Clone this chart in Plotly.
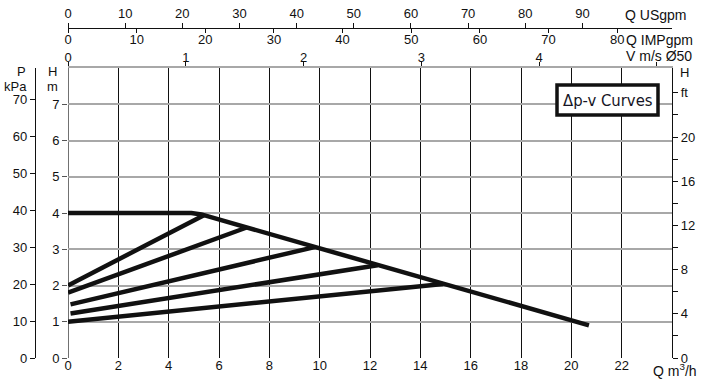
import plotly.graph_objects as go

# ---------------- data ----------------
q_ticks = [0, 2, 4, 6, 8, 10, 12, 14, 16, 18, 20, 22]
h_ticks = [0, 1, 2, 3, 4, 5, 6, 7]
p_ticks = [0, 10, 20, 30, 40, 50, 60, 70]
ft_ticks = [0, 2, 4, 6, 8, 10, 12, 14, 16, 18, 20, 22, 24]
ft_text = ["0", "", "4", "", "8", "", "12", "", "16", "", "20", "", "ft"]
usgpm_ticks = [0, 10, 20, 30, 40, 50, 60, 70, 80, 90]
impgpm_ticks = [0, 10, 20, 30, 40, 50, 60, 70, 80]
v_ticks = [0, 1, 2, 3, 4, 5]
v_text = ["0", "1", "2", "3", "4", ""]

# max curve (constant then falling)
max_q = [0, 4.9, 5.3, 5.6, 20.7]
max_h = [4.0, 4.0, 3.96, 3.9, 0.9]

# proportional-pressure curves (start, end on max curve)
prop_q = [[0, 5.4], [0, 7.1], [0.1, 9.8], [0.1, 12.3], [0, 14.9]]
prop_h = [[2.0, 3.94], [1.8, 3.6], [1.48, 3.06], [1.23, 2.56], [1.0, 2.04]]

# unit conversions
Q_MAX = 24.0
H_MAX = 8.0
M_TO_KPA = 9.80665
M_TO_FT = 3.28084
M3H_TO_USGPM = 4.40287
M3H_TO_IMPGPM = 3.66615
M3H_PER_MS = 4.68

# ---------------- geometry helpers ----------------
W, H = 706, 379
ML, MR, MT, MB = 20, 20, 20, 21
PW, PH = W - ML - MR, H - MT - MB


def px(xpix):
    return (xpix - ML) / PW


def py(ypix):
    return (H - MB - ypix) / PH


FONT = "Liberation Sans, Arial, Helvetica, sans-serif"
fig = go.Figure()

for qq, hh in zip(prop_q, prop_h):
    fig.add_trace(go.Scatter(x=qq, y=hh, mode="lines",
                             line=dict(color="#111111", width=4.5),
                             hoverinfo="skip", showlegend=False))
fig.add_trace(go.Scatter(x=max_q, y=max_h, mode="lines",
                         line=dict(color="#111111", width=4.5),
                         hoverinfo="skip", showlegend=False))

# empty traces to carry the extra axes
for xa, ya in [("x2", "y"), ("x3", "y"), ("x4", "y"), ("x", "y2"), ("x", "y3")]:
    fig.add_trace(go.Scatter(x=[None], y=[None], xaxis=xa, yaxis=ya,
                             mode="lines", showlegend=False, hoverinfo="skip"))

tickfont = dict(family=FONT, size=13, color="#111111")
xdom = [px(68), px(672)]
ytop = py(68)

fig.update_layout(
    width=W, height=H,
    margin=dict(l=ML, r=MR, t=MT, b=MB, autoexpand=False),
    paper_bgcolor="white", plot_bgcolor="white",
    showlegend=False,
    font=dict(family=FONT, size=13, color="#111111"),
    xaxis=dict(domain=xdom, range=[0, Q_MAX], tickvals=q_ticks,
               showgrid=True, gridcolor="#111111", gridwidth=1,
               zeroline=False, showline=False, ticks="",
               ticklabelstandoff=-2, tickfont=tickfont, automargin=False),
    yaxis=dict(domain=[0, ytop], range=[0, H_MAX], tickvals=h_ticks,
               showgrid=True, gridcolor="#a8a8a8", gridwidth=1.6,
               zeroline=False, showline=False, ticks="outside", ticklen=5,
               tickcolor="#555555", tickfont=tickfont, automargin=False),
    yaxis2=dict(overlaying="y", anchor="free", position=px(35), side="left",
                range=[0, H_MAX * M_TO_KPA], tickvals=p_ticks,
                showgrid=False, zeroline=False, showline=True,
                linecolor="#111111", linewidth=1.2, ticks="outside",
                ticklen=5, tickcolor="#111111", tickfont=tickfont,
                automargin=False, autoshift=False),
    yaxis3=dict(overlaying="y", anchor="x", side="right",
                range=[0, H_MAX * M_TO_FT], tickvals=ft_ticks,
                ticktext=ft_text, showgrid=False, zeroline=False,
                showline=True, linecolor="#111111", linewidth=1.2,
                ticks="outside", ticklen=5, tickcolor="#111111",
                tickfont=tickfont, automargin=False),
    xaxis2=dict(overlaying="x", anchor="free", position=py(28), side="top",
                range=[0, Q_MAX * M3H_TO_USGPM], tickvals=usgpm_ticks,
                showgrid=False, zeroline=False, showline=True,
                linecolor="#111111", linewidth=1.2, ticks="outside",
                ticklen=5, tickcolor="#111111", tickfont=tickfont,
                automargin=False),
    xaxis3=dict(overlaying="x", anchor="free", position=py(28), side="bottom",
                range=[0, Q_MAX * M3H_TO_IMPGPM], tickvals=impgpm_ticks,
                showgrid=False, zeroline=False, showline=False,
                ticks="outside", ticklen=4, tickcolor="#111111",
                ticklabelstandoff=-5, tickfont=tickfont, automargin=False),
    xaxis4=dict(overlaying="x", anchor="y", side="top",
                range=[0, Q_MAX / M3H_PER_MS], tickvals=v_ticks,
                ticktext=v_text, showgrid=False, zeroline=False,
                showline=True, linecolor="#a8a8a8", linewidth=2,
                ticks="outside", ticklen=4, tickcolor="#111111",
                ticklabelstandoff=-5, tickfont=tickfont, automargin=False),
)

# black gridline at H = 2
fig.add_shape(type="line", xref="x", yref="y", x0=0, x1=Q_MAX, y0=2, y1=2,
              line=dict(color="#111111", width=1.2), layer="below")
# left plot edge
fig.add_shape(type="line", xref="x", yref="y", x0=0, x1=0, y0=0, y1=H_MAX,
              line=dict(color="#111111", width=1.2), layer="below")

# legend box
fig.add_shape(type="rect", xref="paper", yref="paper",
              x0=px(557), x1=px(658), y0=py(115), y1=py(85),
              line=dict(color="#111111", width=3.5), fillcolor="white",
              layer="above")
fig.add_annotation(x=px(607.5), y=py(100), xref="paper", yref="paper",
                   text="Δp-v Curves", showarrow=False,
                   font=dict(family="DejaVu Sans Condensed, Liberation Sans Narrow, sans-serif",
                             size=16.5, color="#151525"),
                   xanchor="center", yanchor="middle")


def label(text, xpix, ypix, anchor="left", size=13):
    fig.add_annotation(x=px(xpix), y=py(ypix), xref="paper", yref="paper",
                       text=text, showarrow=False, xanchor=anchor,
                       yanchor="middle", font=dict(family=FONT, size=size,
                                                   color="#111111"))


label("P", 28, 71, "right")
label("kPa", 29, 86, "right")
label("H", 52, 71, "center")
label("m", 52, 86, "center")
label("H", 684, 72, "center")
label("Q USgpm", 623, 15, "left", 14)
label("Q IMPgpm", 624, 40, "left", 14)
label("V m/s Ø50", 624, 56, "left", 14)
label("Q m<sup>3</sup>/h", 651, 370, "left", 14)

fig.write_html("out.html",
               config={"displayModeBar": False},
               post_script="document.body.style.margin='0px';"
                           "document.body.style.overflow='hidden';")
